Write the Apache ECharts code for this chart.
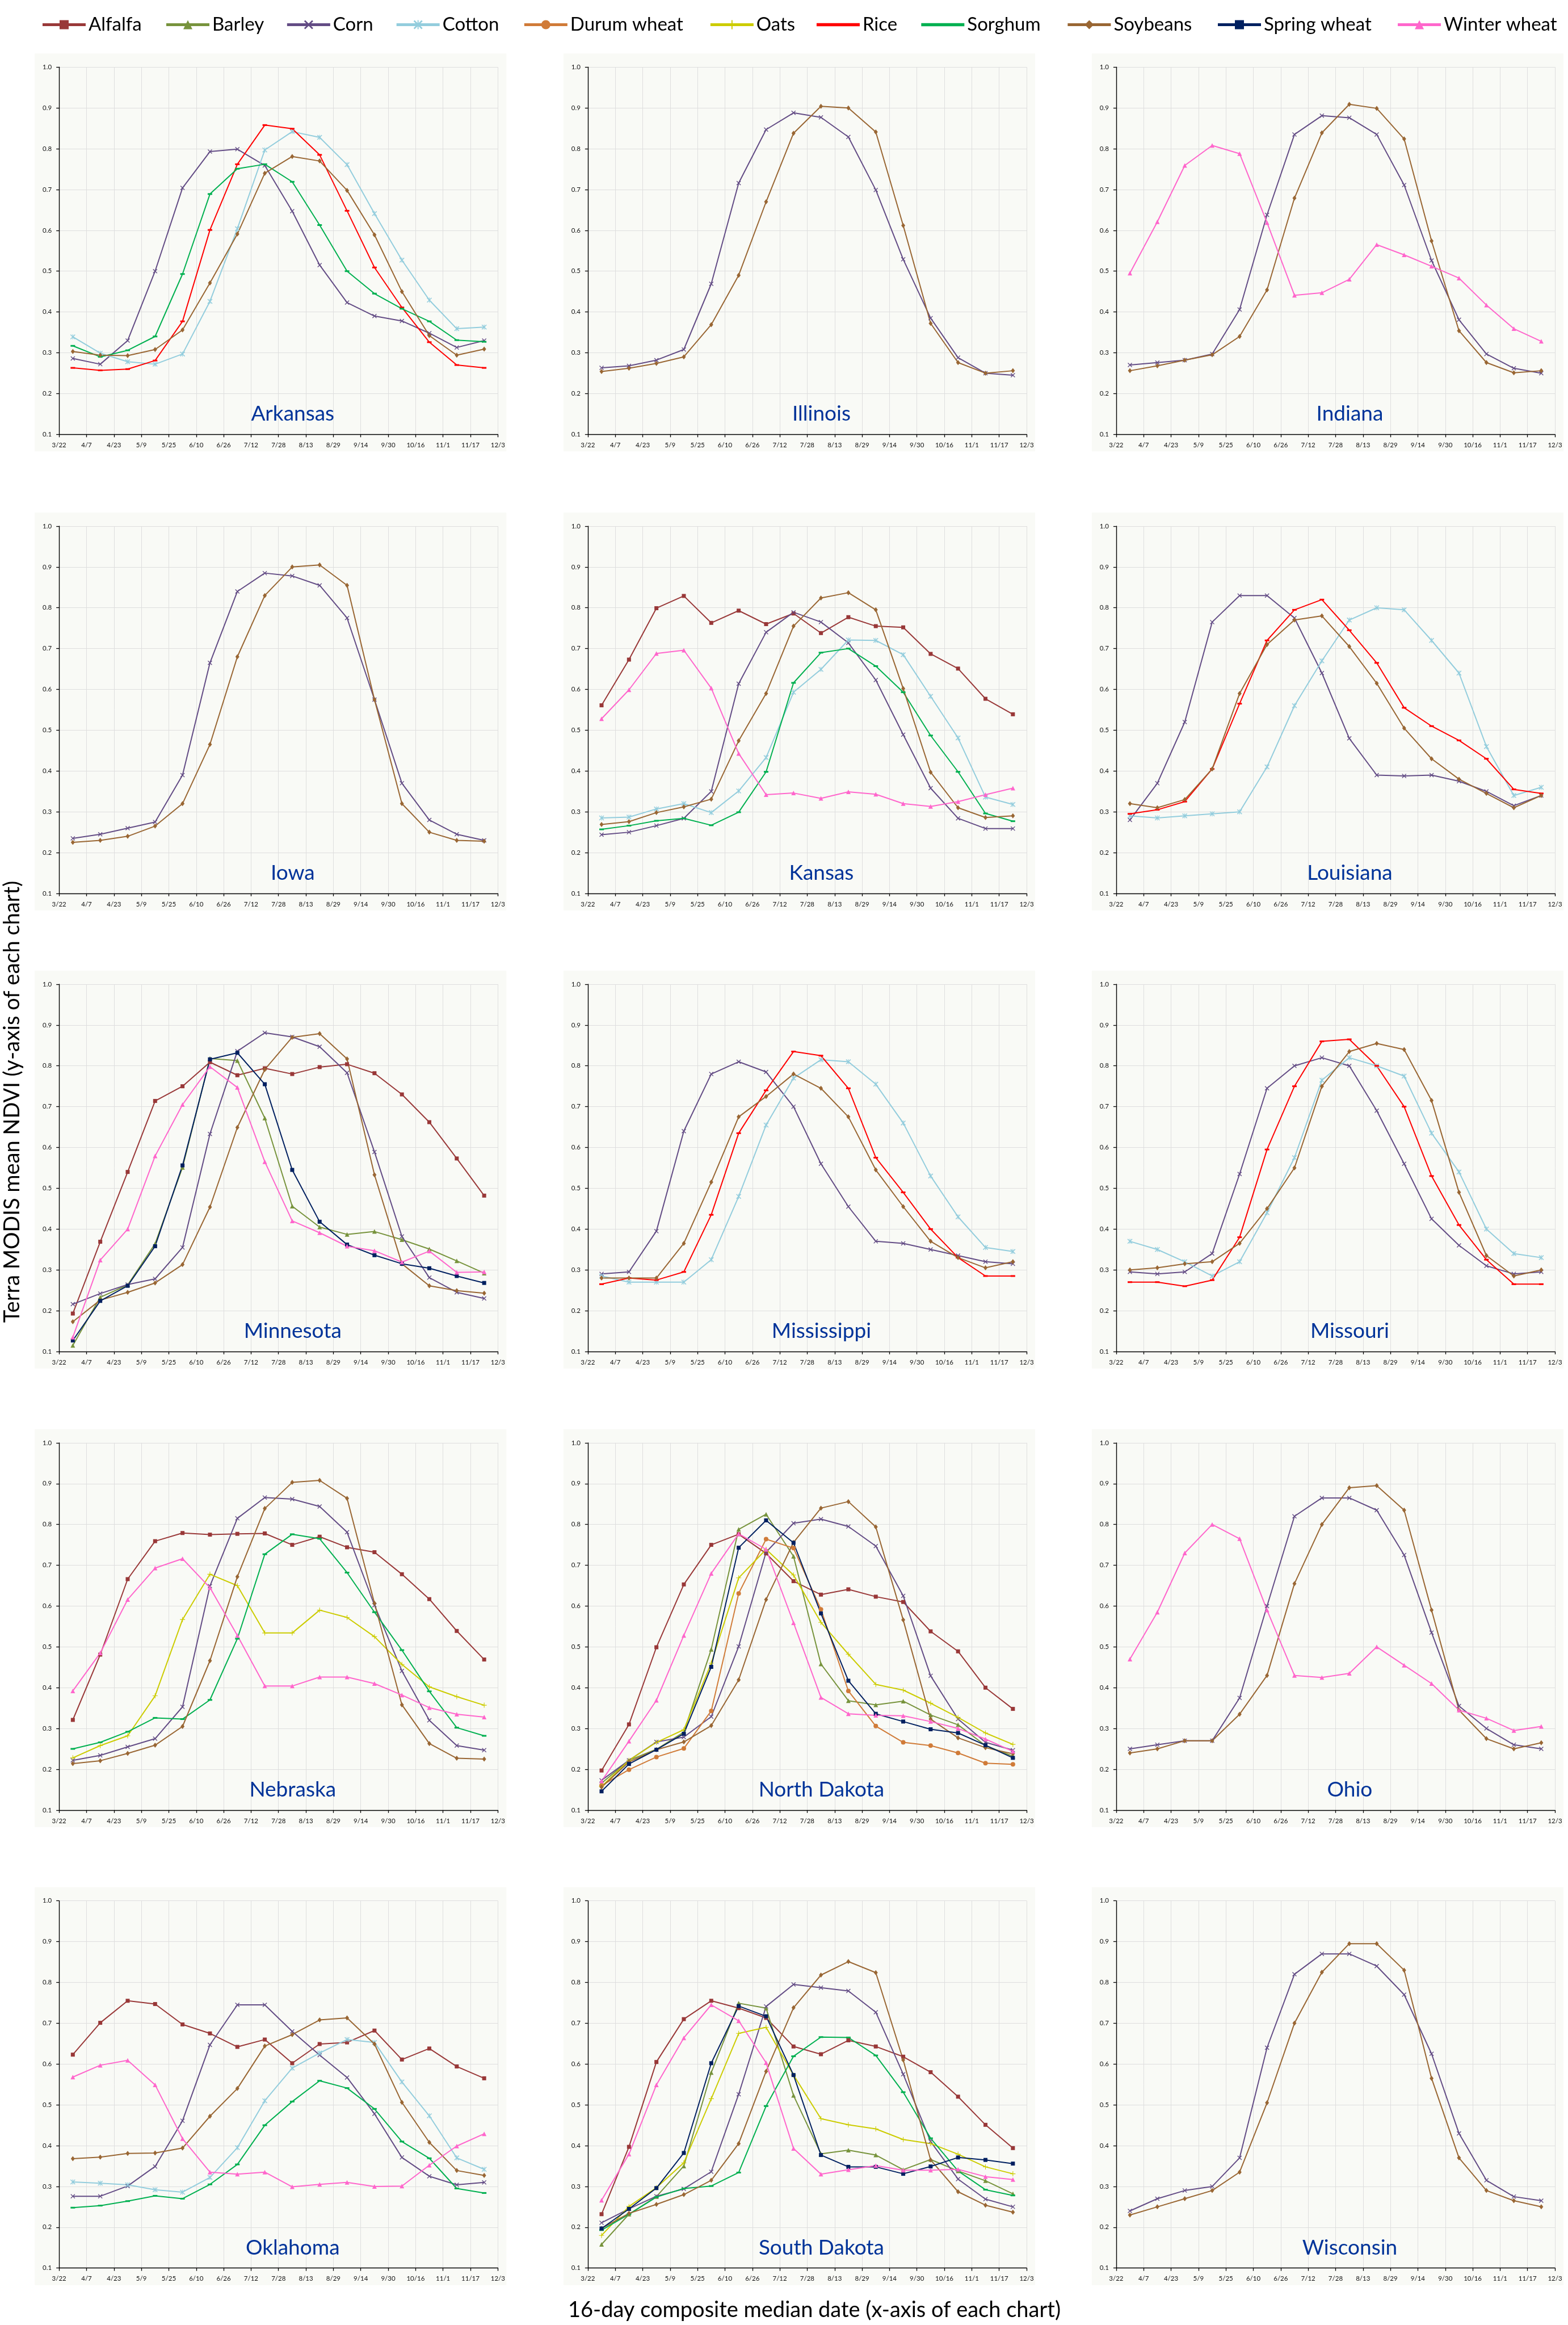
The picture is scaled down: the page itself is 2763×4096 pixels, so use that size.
<!DOCTYPE html>
<html><head><meta charset="utf-8">
<script src="https://cdn.jsdelivr.net/npm/echarts@6/dist/echarts.min.js"></script>
<style>html,body{margin:0;padding:0;background:#fff}#c{width:2763px;height:4096px}</style>
</head><body><div id="c"></div>
<script>
// ---------- data ----------
const dates = ['3/22','4/7','4/23','5/9','5/25','6/10','6/26','7/12','7/28','8/13','8/29','9/14','9/30','10/16','11/1','11/17','12/3'];
const crops = ['Alfalfa','Barley','Corn','Cotton','Durum wheat','Oats','Rice','Sorghum','Soybeans','Spring wheat','Winter wheat'];
const states = ['Arkansas','Illinois','Indiana','Iowa','Kansas','Louisiana','Minnesota','Mississippi','Missouri','Nebraska','North Dakota','Ohio','Oklahoma','South Dakota','Wisconsin'];

const arkansas = {
  'Corn':     [0.286,0.272,0.330,0.500,0.704,0.793,0.799,0.759,0.647,0.515,0.423,0.390,0.378,0.348,0.313,0.330],
  'Cotton':   [0.339,0.299,0.278,0.272,0.297,0.426,0.604,0.797,0.842,0.828,0.761,0.641,0.527,0.429,0.359,0.363],
  'Rice':     [0.263,0.257,0.260,0.281,0.377,0.601,0.762,0.858,0.849,0.785,0.648,0.509,0.411,0.326,0.270,0.263],
  'Sorghum':  [0.317,0.290,0.306,0.340,0.493,0.689,0.751,0.762,0.719,0.613,0.500,0.445,0.408,0.377,0.331,0.327],
  'Soybeans': [0.303,0.294,0.293,0.308,0.356,0.471,0.591,0.740,0.781,0.770,0.698,0.589,0.450,0.342,0.294,0.309]
};
const illinois = {
  'Corn':     [0.263,0.268,0.282,0.308,0.469,0.716,0.847,0.888,0.877,0.829,0.699,0.529,0.385,0.288,0.250,0.245],
  'Soybeans': [0.254,0.262,0.274,0.290,0.369,0.490,0.670,0.838,0.904,0.900,0.841,0.612,0.372,0.276,0.250,0.256]
};
const indiana = {
  'Corn':         [0.270,0.276,0.282,0.297,0.406,0.638,0.835,0.881,0.876,0.835,0.711,0.526,0.381,0.297,0.262,0.250],
  'Soybeans':     [0.256,0.268,0.282,0.295,0.340,0.454,0.679,0.839,0.909,0.899,0.824,0.574,0.354,0.276,0.251,0.256],
  'Winter wheat': [0.495,0.621,0.759,0.808,0.788,0.619,0.441,0.447,0.480,0.565,0.540,0.512,0.483,0.417,0.359,0.328]
};
const iowa = {
  'Corn':     [0.235,0.245,0.260,0.275,0.390,0.665,0.840,0.885,0.878,0.855,0.775,0.575,0.370,0.280,0.245,0.230],
  'Soybeans': [0.225,0.230,0.240,0.265,0.320,0.465,0.680,0.830,0.900,0.905,0.855,0.575,0.320,0.250,0.230,0.228]
};
const kansas = {
  'Alfalfa':      [0.561,0.673,0.799,0.829,0.763,0.793,0.760,0.786,0.738,0.777,0.755,0.752,0.687,0.651,0.577,0.539],
  'Corn':         [0.244,0.250,0.266,0.284,0.350,0.614,0.740,0.789,0.765,0.714,0.623,0.489,0.358,0.284,0.259,0.259],
  'Cotton':       [0.285,0.287,0.307,0.320,0.298,0.351,0.433,0.593,0.649,0.721,0.720,0.685,0.583,0.481,0.336,0.318],
  'Sorghum':      [0.257,0.266,0.278,0.284,0.267,0.299,0.398,0.616,0.690,0.700,0.657,0.593,0.487,0.398,0.296,0.277],
  'Soybeans':     [0.269,0.276,0.298,0.312,0.331,0.474,0.590,0.755,0.824,0.837,0.795,0.602,0.397,0.310,0.286,0.290],
  'Winter wheat': [0.528,0.599,0.688,0.696,0.603,0.443,0.342,0.346,0.333,0.349,0.343,0.320,0.313,0.325,0.342,0.358]
};
const louisiana = {
  'Corn':     [0.280,0.370,0.520,0.765,0.830,0.830,0.775,0.640,0.480,0.390,0.388,0.390,0.375,0.350,0.315,0.340],
  'Cotton':   [0.290,0.285,0.290,0.295,0.300,0.410,0.560,0.670,0.770,0.800,0.795,0.720,0.640,0.460,0.340,0.360],
  'Rice':     [0.295,0.305,0.325,0.405,0.565,0.720,0.795,0.820,0.745,0.665,0.555,0.510,0.475,0.430,0.355,0.345],
  'Soybeans': [0.320,0.310,0.330,0.405,0.590,0.710,0.770,0.780,0.705,0.615,0.505,0.430,0.380,0.345,0.310,0.340]
};
const minnesota = {
  'Alfalfa':      [0.193,0.369,0.540,0.714,0.750,0.809,0.777,0.794,0.780,0.797,0.804,0.782,0.730,0.662,0.573,0.482],
  'Barley':       [0.115,0.233,0.263,0.364,0.551,0.818,0.813,0.672,0.456,0.405,0.387,0.394,0.374,0.351,0.322,0.292],
  'Corn':         [0.216,0.242,0.264,0.278,0.355,0.633,0.836,0.881,0.871,0.847,0.783,0.589,0.382,0.281,0.245,0.230],
  'Soybeans':     [0.173,0.226,0.245,0.268,0.313,0.454,0.649,0.791,0.870,0.879,0.817,0.533,0.315,0.261,0.249,0.243],
  'Spring wheat': [0.127,0.224,0.261,0.358,0.556,0.816,0.832,0.755,0.545,0.418,0.362,0.336,0.315,0.304,0.285,0.268],
  'Winter wheat': [0.135,0.324,0.400,0.579,0.705,0.798,0.747,0.565,0.420,0.391,0.358,0.347,0.319,0.346,0.294,0.295]
};
const mississippi = {
  'Corn':     [0.290,0.295,0.395,0.640,0.780,0.810,0.785,0.700,0.560,0.455,0.370,0.365,0.350,0.335,0.320,0.315],
  'Cotton':   [0.285,0.270,0.270,0.270,0.325,0.480,0.655,0.770,0.815,0.810,0.755,0.660,0.530,0.430,0.355,0.345],
  'Rice':     [0.265,0.280,0.275,0.295,0.435,0.635,0.740,0.835,0.825,0.745,0.575,0.490,0.400,0.330,0.285,0.285],
  'Soybeans': [0.280,0.280,0.280,0.365,0.515,0.675,0.725,0.780,0.745,0.675,0.545,0.455,0.370,0.330,0.305,0.320]
};
const missouri = {
  'Corn':     [0.295,0.290,0.295,0.340,0.535,0.745,0.800,0.820,0.800,0.690,0.560,0.425,0.360,0.310,0.290,0.295],
  'Cotton':   [0.370,0.350,0.320,0.285,0.320,0.440,0.575,0.765,0.820,0.800,0.775,0.635,0.540,0.400,0.340,0.330],
  'Rice':     [0.270,0.270,0.260,0.275,0.380,0.595,0.750,0.860,0.865,0.800,0.700,0.530,0.410,0.325,0.265,0.265],
  'Soybeans': [0.300,0.305,0.315,0.320,0.365,0.450,0.550,0.750,0.835,0.855,0.840,0.715,0.490,0.335,0.285,0.300]
};
const nebraska = {
  'Alfalfa':      [0.321,0.481,0.666,0.759,0.779,0.775,0.777,0.778,0.750,0.770,0.744,0.732,0.678,0.617,0.539,0.469],
  'Corn':         [0.222,0.234,0.255,0.275,0.353,0.649,0.815,0.866,0.862,0.844,0.781,0.602,0.441,0.320,0.258,0.247],
  'Oats':         [0.228,0.258,0.282,0.380,0.567,0.678,0.650,0.534,0.534,0.590,0.572,0.525,0.457,0.402,0.378,0.357],
  'Sorghum':      [0.250,0.266,0.292,0.326,0.323,0.370,0.520,0.727,0.776,0.765,0.682,0.585,0.492,0.391,0.302,0.282],
  'Soybeans':     [0.214,0.221,0.239,0.259,0.305,0.466,0.672,0.839,0.903,0.908,0.864,0.607,0.358,0.263,0.227,0.225],
  'Winter wheat': [0.392,0.485,0.616,0.693,0.716,0.645,0.528,0.404,0.404,0.426,0.426,0.410,0.382,0.351,0.335,0.328]
};
const northDakota = {
  'Alfalfa':      [0.197,0.310,0.499,0.653,0.750,0.776,0.729,0.661,0.628,0.641,0.623,0.610,0.538,0.489,0.400,0.348],
  'Barley':       [0.166,0.222,0.249,0.291,0.494,0.788,0.825,0.722,0.458,0.368,0.358,0.367,0.333,0.309,0.258,0.232],
  'Corn':         [0.173,0.222,0.267,0.279,0.329,0.501,0.732,0.803,0.813,0.795,0.747,0.625,0.429,0.323,0.266,0.247],
  'Durum wheat':  [0.160,0.199,0.230,0.251,0.343,0.631,0.764,0.742,0.592,0.392,0.306,0.266,0.258,0.240,0.215,0.212],
  'Oats':         [0.158,0.222,0.266,0.297,0.460,0.669,0.739,0.676,0.560,0.482,0.408,0.394,0.362,0.327,0.289,0.261],
  'Soybeans':     [0.156,0.218,0.248,0.267,0.307,0.419,0.616,0.756,0.840,0.856,0.794,0.566,0.323,0.277,0.253,0.238],
  'Spring wheat': [0.146,0.213,0.248,0.287,0.451,0.743,0.810,0.755,0.582,0.417,0.336,0.317,0.298,0.289,0.259,0.228],
  'Winter wheat': [0.171,0.269,0.369,0.528,0.680,0.777,0.739,0.559,0.376,0.336,0.332,0.331,0.317,0.300,0.274,0.244]
};
const ohio = {
  'Corn':         [0.250,0.260,0.270,0.270,0.375,0.600,0.820,0.865,0.865,0.835,0.725,0.535,0.355,0.300,0.260,0.250],
  'Soybeans':     [0.240,0.250,0.270,0.270,0.335,0.430,0.655,0.800,0.890,0.895,0.835,0.590,0.345,0.275,0.250,0.265],
  'Winter wheat': [0.470,0.585,0.730,0.800,0.765,0.590,0.430,0.425,0.435,0.500,0.455,0.410,0.345,0.325,0.295,0.305]
};
const oklahoma = {
  'Alfalfa':      [0.623,0.701,0.755,0.747,0.697,0.675,0.642,0.660,0.602,0.649,0.653,0.682,0.611,0.638,0.594,0.565],
  'Corn':         [0.276,0.276,0.301,0.349,0.461,0.647,0.745,0.745,0.680,0.622,0.567,0.478,0.371,0.325,0.304,0.310],
  'Cotton':       [0.311,0.308,0.304,0.292,0.286,0.322,0.395,0.510,0.590,0.627,0.660,0.653,0.556,0.473,0.370,0.342],
  'Sorghum':      [0.248,0.253,0.264,0.277,0.270,0.305,0.354,0.450,0.508,0.559,0.541,0.490,0.410,0.369,0.295,0.284],
  'Soybeans':     [0.368,0.372,0.381,0.382,0.394,0.472,0.540,0.644,0.672,0.708,0.713,0.649,0.506,0.408,0.339,0.327],
  'Winter wheat': [0.568,0.597,0.609,0.549,0.417,0.335,0.330,0.335,0.299,0.305,0.310,0.300,0.301,0.352,0.399,0.429]
};
const southDakota = {
  'Alfalfa':      [0.232,0.397,0.605,0.710,0.755,0.737,0.713,0.643,0.624,0.658,0.643,0.618,0.580,0.520,0.451,0.394],
  'Barley':       [0.158,0.232,0.275,0.350,0.579,0.749,0.737,0.523,0.380,0.389,0.377,0.341,0.366,0.338,0.314,0.282],
  'Corn':         [0.211,0.245,0.276,0.294,0.336,0.526,0.741,0.795,0.787,0.779,0.727,0.575,0.410,0.318,0.269,0.250],
  'Oats':         [0.180,0.251,0.297,0.358,0.515,0.675,0.690,0.573,0.466,0.451,0.441,0.415,0.405,0.379,0.348,0.331],
  'Sorghum':      [0.193,0.232,0.274,0.295,0.301,0.334,0.497,0.619,0.666,0.665,0.621,0.531,0.418,0.338,0.292,0.278],
  'Soybeans':     [0.197,0.234,0.256,0.280,0.315,0.405,0.582,0.738,0.818,0.851,0.824,0.610,0.365,0.287,0.254,0.237],
  'Spring wheat': [0.197,0.245,0.296,0.382,0.602,0.742,0.717,0.573,0.377,0.348,0.348,0.331,0.349,0.371,0.365,0.356],
  'Winter wheat': [0.266,0.379,0.549,0.664,0.745,0.706,0.603,0.393,0.330,0.341,0.351,0.340,0.340,0.342,0.324,0.317]
};
const wisconsin = {
  'Corn':     [0.240,0.270,0.290,0.300,0.370,0.640,0.820,0.870,0.870,0.840,0.770,0.625,0.430,0.315,0.275,0.265],
  'Soybeans': [0.230,0.250,0.270,0.290,0.335,0.505,0.700,0.825,0.895,0.895,0.830,0.565,0.370,0.290,0.265,0.250]
};
const stateData = [arkansas, illinois, indiana, iowa, kansas, louisiana, minnesota, mississippi, missouri, nebraska, northDakota, ohio, oklahoma, southDakota, wisconsin];

// ---------- styles / layout ----------
const S = 0.647;
const FONT = 'Lato, "Open Sans", "Noto Sans", sans-serif';
const X_PATH = 'path://M0,1.2 L1.2,0 L5,3.8 L8.8,0 L10,1.2 L6.2,5 L10,8.8 L8.8,10 L5,6.2 L1.2,10 L0,8.8 L3.8,5 Z';
const AST_PATH = 'path://M0,1.2 L1.2,0 L5,3.8 L8.8,0 L10,1.2 L6.2,5 L10,8.8 L8.8,10 L5,6.2 L1.2,10 L0,8.8 L3.8,5 Z M4.4,0 L5.6,0 L5.6,10 L4.4,10 Z';
const PLUS_PATH = 'path://M4.4,0 L5.6,0 L5.6,4.4 L10,4.4 L10,5.6 L5.6,5.6 L5.6,10 L4.4,10 L4.4,5.6 L0,5.6 L0,4.4 L4.4,4.4 Z';
const BAR_PATH = 'path://M0,0 L20,0 L20,1.5 L0,1.5 Z';
const cropStyle = {
  'Alfalfa':      {color:'#993838', symbol:'rect', size:7},
  'Barley':       {color:'#77933C', symbol:'triangle', size:8},
  'Corn':         {color:'#634C85', symbol:X_PATH, size:8},
  'Cotton':       {color:'#93CDDD', symbol:AST_PATH, size:9},
  'Durum wheat':  {color:'#D07B38', symbol:'circle', size:8},
  'Oats':         {color:'#CCCC00', symbol:PLUS_PATH, size:9},
  'Rice':         {color:'#FF0000', symbol:'rect', size:[8,3]},
  'Sorghum':      {color:'#00B050', symbol:'rect', size:[8,3]},
  'Soybeans':     {color:'#996633', symbol:'diamond', size:[7,9]},
  'Spring wheat': {color:'#002060', symbol:'rect', size:7},
  'Winter wheat': {color:'#FF66CC', symbol:'triangle', size:8}
};
const colLeft = [161, 1601, 3040].map(v => v * S);
const rowTop = [182.8, 1432.7, 2680, 3928.7, 5175.7].map(v => v * S);
const plotW = 1195 * S, plotH = 1000 * S;
const legendX = [112, 449, 778, 1076, 1424, 1931, 2224, 2509, 2904, 3313, 3803].map(v => v * S);

const grids = [], xAxes = [], yAxes = [], series = [], graphics = [];
states.forEach((st, i) => {
  const left = colLeft[i % 3], top = rowTop[Math.floor(i / 3)];
  graphics.push({type:'rect', z:-10, shape:{x:left - 43, y:top - 24, width:plotW + 43 + 15, height:plotH + 24 + 30},
    style:{fill:'#F9FAF6'}, silent:true});
  graphics.push({type:'text', z:10, x:left + plotW / 2 + 25, y:top + plotH * (1 - 0.05 / 0.9),
    style:{text:st, fill:'#003399', fontSize:37, fontFamily:FONT, align:'center', verticalAlign:'middle',
      textAlign:'center', textVerticalAlign:'middle'}});
  grids.push({left:left, top:top, width:plotW, height:plotH, containLabel:false});
  xAxes.push({type:'value', gridIndex:i, min:0, max:16, interval:1,
    axisLine:{show:true, onZero:false, lineStyle:{color:'#000', width:1.4}},
    axisTick:{show:true, length:5, lineStyle:{color:'#000', width:1.3}},
    axisLabel:{formatter:v => dates[Math.round(v)], fontSize:11.5, color:'#111', margin:13, fontFamily:FONT,
      showMinLabel:true, showMaxLabel:true},
    splitLine:{show:true, lineStyle:{color:'#DEDEDE', width:1}}});
  yAxes.push({type:'value', gridIndex:i, min:0.1, max:1.0, interval:0.1,
    axisLine:{show:true, onZero:false, lineStyle:{color:'#000', width:1.4}},
    axisTick:{show:true, length:5, lineStyle:{color:'#000', width:1.3}},
    axisLabel:{formatter:v => v.toFixed(1), fontSize:11.5, color:'#111', margin:13, fontFamily:FONT},
    splitLine:{show:true, lineStyle:{color:'#DEDEDE', width:1}}});
  const d = stateData[i];
  crops.forEach(c => {
    if (!d[c]) return;
    const cs = cropStyle[c];
    series.push({type:'line', name:c, xAxisIndex:i, yAxisIndex:i,
      data:d[c].map((v, k) => [k + 0.5, v]),
      symbol:cs.symbol, symbolSize:cs.size, showSymbol:true,
      lineStyle:{color:cs.color, width:2}, itemStyle:{color:cs.color},
      emphasis:{disabled:true}, animation:false, z:2});
  });
});

graphics.push({type:'text', x:22, y:1941, rotation:Math.PI / 2,
  style:{text:'Terra MODIS mean NDVI (y-axis of each chart)', fill:'#000', fontSize:38, fontFamily:FONT,
    align:'center', verticalAlign:'middle', textAlign:'center', textVerticalAlign:'middle'}});
graphics.push({type:'text', x:1435, y:4070,
  style:{text:'16-day composite median date (x-axis of each chart)', fill:'#000', fontSize:38, fontFamily:FONT,
    align:'center', verticalAlign:'middle', textAlign:'center', textVerticalAlign:'middle'}});

const legends = crops.map((c, j) => ({
  left:legendX[j], top:27, padding:0, itemWidth:76, itemHeight:20, itemGap:0, selectedMode:false,
  data:[(c === 'Rice' || c === 'Sorghum') ? {name:c, icon:BAR_PATH} : c],
  textStyle:{fontSize:33, fontFamily:FONT, color:'#000'},
  lineStyle:{width:5}
}));

const chart = echarts.init(document.getElementById('c'), null, {renderer:'canvas'});
chart.setOption({
  animation:false, backgroundColor:'#fff',
  legend:legends, grid:grids, xAxis:xAxes, yAxis:yAxes, series:series, graphic:graphics
});
</script></body></html>
